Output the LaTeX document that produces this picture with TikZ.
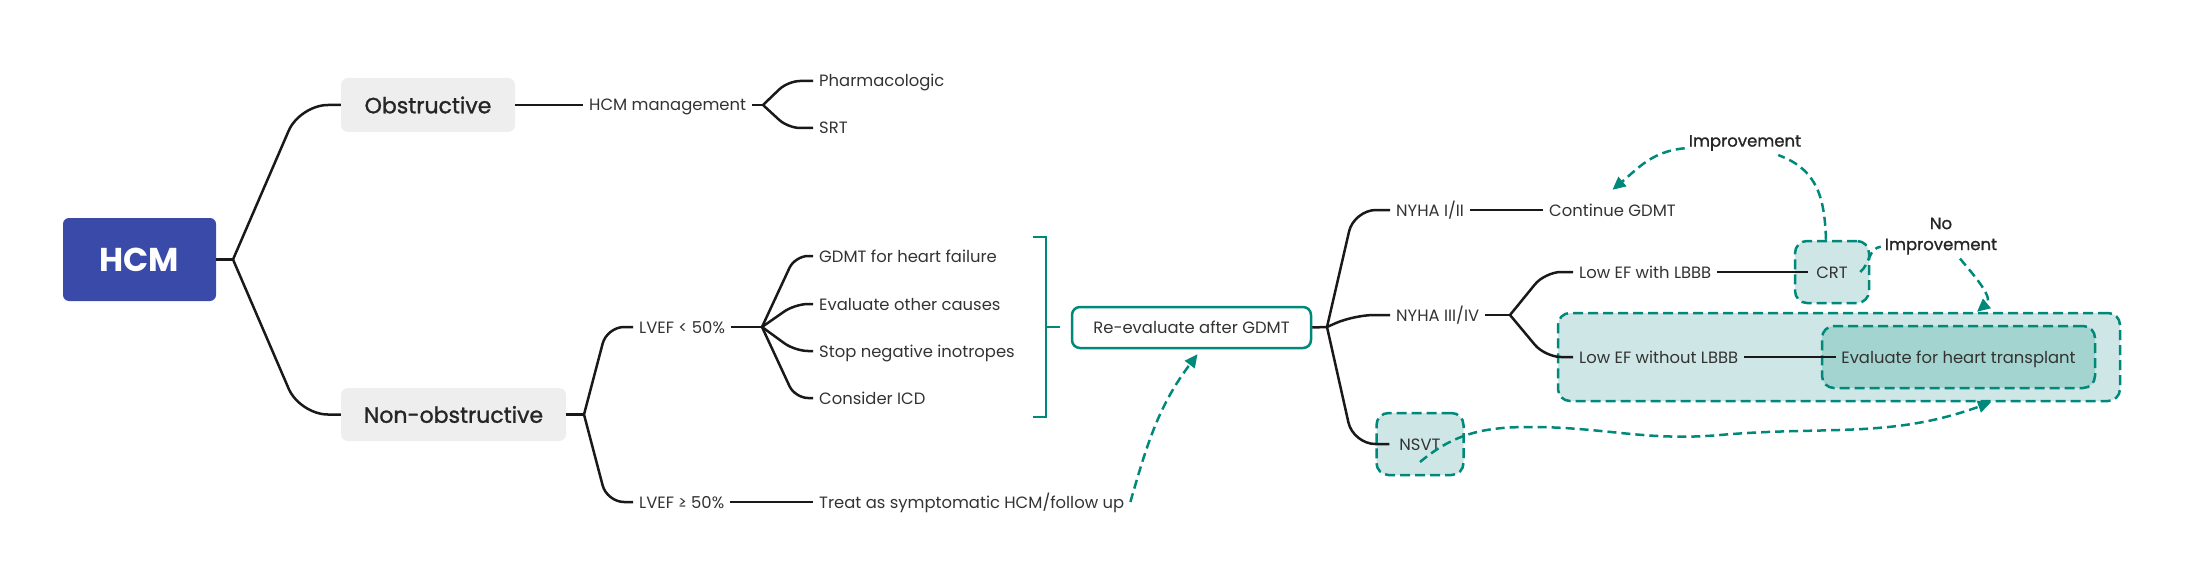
\documentclass[tikz,border=0pt]{standalone}
\usepackage{fontspec}
\setmainfont{Poppins}
\newfontfamily\medfont[FakeBold=1.2]{Poppins}
\usetikzlibrary{arrows.meta}

\definecolor{hcmblue}{HTML}{3A4AA9}
\definecolor{tealline}{HTML}{00897B}
\definecolor{tealfill}{HTML}{CEE7E6}
\definecolor{tealdeep}{HTML}{A3D4CF}
\definecolor{boxgrey}{HTML}{EEEEEE}
\definecolor{txt}{HTML}{333333}

\tikzset{
  branch/.style={draw=black!90, line width=2.5pt, rounded corners=#1},
  branch/.default=14pt,
  leaf/.style={anchor=west, text=txt, inner sep=6pt, text height=12pt, text depth=0pt,
    font=\fontsize{16.4}{20}\selectfont},
  topic/.style={fill=boxgrey, rounded corners=7pt, text=black!85,
    font=\fontsize{22}{26}\selectfont\medfont},
  dashbox/.style={draw=tealline, fill=tealfill, line width=2.5pt,
    dash pattern=on 10pt off 5pt, rounded corners=12pt, text=txt,
    text height=12pt, text depth=0pt, font=\fontsize{16.4}{20}\selectfont},
  dasharrow/.style={draw=tealline, line width=2.5pt, dash pattern=on 9pt off 5pt,
    -{Triangle[length=13pt,width=12pt]}},
  note/.style={font=\fontsize{16.5}{21}\selectfont\medfont, text=black!85,
    inner sep=4pt, align=center},
}

\begin{document}
\begin{tikzpicture}[x=1pt, y=-1pt]
    \useasboundingbox (0,0) rectangle (2195,583);

    % Main topics
    \node[fill=hcmblue, text=white, rounded corners=6pt, minimum width=153pt, minimum height=83pt,
      font=\fontsize{33}{36}\selectfont\bfseries] (hcm) at (139.5,259.5) {HCM};
    \node[topic, minimum width=174pt, minimum height=54pt] (obs) at (428,105) {Obstructive};
    \node[topic, minimum width=225pt, minimum height=53pt] (nonobs) at (453.5,414.5) {Non-obstructive};

    % Junctions
    \coordinate (hcm-j) at (233,259.5);
    \coordinate (mg-j) at (763,105);
    \coordinate (non-j) at (584,414.5);
    \coordinate (lv-j) at (762,327);
    \coordinate (re-j) at (1327,327);
    \coordinate (ny-j) at (1510,315);

    % Obstructive branch
    \node[leaf] (mgmt) at (583,105) {HCM management};
    \node[leaf] (pharm) at (813,81) {Pharmacologic};
    \node[leaf] (srt) at (813,128) {SRT};

    % Non-obstructive branch
    \node[leaf] (lvlow) at (633,327) {LVEF < 50\%};
    \node[leaf] (lvhigh) at (633,502) {LVEF ≥ 50\%};
    \node[leaf] (gdmt) at (813,256) {GDMT for heart failure};
    \node[leaf] (evoth) at (813,304) {Evaluate other causes};
    \node[leaf] (stopneg) at (813,351) {Stop negative inotropes};
    \node[leaf] (icd) at (813,398) {Consider ICD};
    \node[leaf] (treat) at (813,502) {Treat as symptomatic HCM/follow up};

    % Bracket
    \draw[tealline, line width=2.5pt] (1033,237) -- (1046,237) -- (1046,417) -- (1033,417);
    \draw[tealline, line width=2.5pt] (1046,327) -- (1060,327);

    % Re-evaluation
    \node[draw=tealline, line width=2.5pt, fill=white, rounded corners=8pt, minimum width=239pt,
      minimum height=41pt, text=txt, text height=12pt, text depth=0pt,
      font=\fontsize{16.4}{20}\selectfont] (reeval) at (1191.5,327.5) {Re-evaluate after GDMT};
    \node[leaf] (nyha12) at (1390,210) {NYHA I/II};
    \node[leaf] (cont) at (1543,210) {Continue GDMT};
    \node[leaf] (nyha34) at (1390,315) {NYHA III/IV};
    \node[dashbox, minimum width=87pt, minimum height=62pt] (nsvt) at (1420,444) {NSVT};

    \node[dashbox, minimum width=562pt, minimum height=88pt] (grp) at (1839,357) {};
    \node[leaf] (lowwith) at (1573,272) {Low EF with LBBB};
    \node[leaf] (lowwo) at (1573,357) {Low EF without LBBB};
    \node[dashbox, minimum width=74pt, minimum height=62pt] (crt) at (1832,272) {CRT};
    \node[dashbox, fill=tealdeep, minimum width=273pt, minimum height=62pt] (eval) at (1958.5,357)
      {Evaluate for heart transplant};

    \node[note] (imp) at (1745,143) {Improvement};
    \node[note] (noimp) at (1941,236) {No\\Improvement};

    % Branches
    \draw[branch] (hcm.east) -- (hcm-j);
    \draw[branch=28pt] (hcm-j) -- ([xshift=-41pt]obs.west) -- (obs.west);
    \draw[branch=28pt] (hcm-j) -- ([xshift=-41pt]nonobs.west) -- (nonobs.west);

    \draw[branch] (obs.east) -- (mgmt.west);
    \draw[branch] (mgmt.east) -- (mg-j);
    \draw[branch=12pt] (mg-j) -- ([xshift=-25pt]pharm.west) -- (pharm.west);
    \draw[branch=12pt] (mg-j) -- ([xshift=-25pt]srt.west) -- (srt.west);

    \draw[branch] (nonobs.east) -- (non-j);
    \draw[branch=17pt] (non-j) -- ([xshift=-26pt]lvlow.west) -- (lvlow.west);
    \draw[branch=17pt] (non-j) -- ([xshift=-26pt]lvhigh.west) -- (lvhigh.west);
    \draw[branch] (lvlow.east) -- (lv-j);
    \foreach \leafname in {gdmt, evoth, stopneg, icd}
      \draw[branch=13pt] (lv-j) -- ([xshift=-18pt]\leafname.west) -- (\leafname.west);
    \draw[branch] (lvhigh.east) -- (treat.west);

    \draw[branch] (reeval.east) -- (re-j);
    \draw[branch=22pt] (re-j) -- ([xshift=-36pt]nyha12.west) -- (nyha12.west);
    \draw[branch=20pt] (re-j) -- ([xshift=-36pt]nyha34.west) -- (nyha34.west);
    \draw[branch=22pt] (re-j) -- ([xshift=-22pt]nsvt.west) -- ([xshift=14pt]nsvt.west);
    \draw[branch] (nyha12.east) -- (cont.west);
    \draw[branch] (nyha34.east) -- (ny-j);
    \draw[branch=16pt] (ny-j) -- ([xshift=-28pt]lowwith.west) -- (lowwith.west);
    \draw[branch=16pt] (ny-j) -- ([xshift=-28pt]lowwo.west) -- (lowwo.west);
    \draw[branch] (lowwith.east) -- ([xshift=14pt]crt.west);
    \draw[branch] (lowwo.east) -- ([xshift=15pt]eval.west);

    % Feedback arrows
    \draw[dasharrow] (treat.east) to[out=74, in=233] ([xshift=6pt, yshift=-5pt]reeval.south);
    \draw[dasharrow] ([xshift=-6pt]crt.north) to[out=92, in=-20, looseness=1.1] (imp)
      to[out=185, in=40] ([yshift=8pt]cont.north);
    \draw[dasharrow] ([xshift=-10pt]crt.east) to[out=40, in=190] (noimp)
      to[out=-50, in=40] ([xshift=138pt]grp.north);
    \draw[dasharrow] ([yshift=-18pt]nsvt.center) to[out=40, in=180] ++(110,-35)
      to[out=0, in=185] ++(190,8) to[out=5, in=200] ([xshift=152pt]grp.south);
\end{tikzpicture}
\end{document}
